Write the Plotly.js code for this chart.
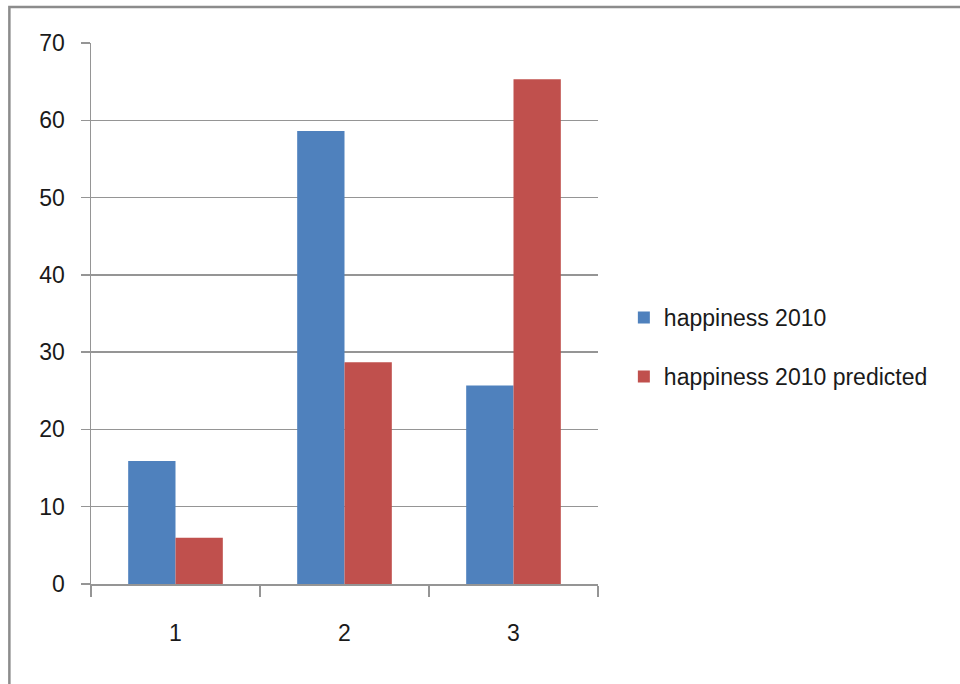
<!DOCTYPE html>
<html>
<head>
<meta charset="utf-8">
<script src="https://cdn.plot.ly/plotly-3.0.1.min.js"></script>
<style>
html,body{margin:0;padding:0;background:#fff;}
#chart{width:960px;height:684px;}
</style>
</head>
<body>
<div id="chart"></div>
<script>
var categories = ["1", "2", "3"];
var seriesNames = ["happiness 2010", "happiness 2010 predicted"];
var happiness2010 = [15.9, 58.6, 25.7];
var happiness2010Predicted = [6.0, 28.7, 65.3];
var yTickValues = [0, 10, 20, 30, 40, 50, 60, 70];

var FONT = "'Liberation Sans', Arial, sans-serif";
var GRID = "#959595";

var traces = [
  {
    type: "bar", name: seriesNames[0], x: categories, y: happiness2010,
    marker: {color: "#4F81BD", line: {width: 0}}, legendgroup: "a"
  },
  {
    type: "bar", name: seriesNames[1], x: categories, y: happiness2010Predicted,
    marker: {color: "#C0504D", line: {width: 0}}, legendgroup: "b"
  }
];

var layout = {
  width: 960, height: 684,
  paper_bgcolor: "#fff", plot_bgcolor: "#fff",
  margin: {l: 91, r: 362, t: 43, b: 100, autoexpand: false},
  barmode: "group", bargap: 0.44, bargroupgap: 0,
  font: {family: FONT, size: 23, color: "#1a1a1a"},
  showlegend: true,
  legend: {
    x: 1.051, xanchor: "left", y: 0.438, yanchor: "middle",
    font: {family: FONT, size: 23, color: "#1a1a1a"},
    tracegroupgap: 26, itemwidth: 30, bgcolor: "rgba(0,0,0,0)"
  },
  xaxis: {
    type: "category", showgrid: false, zeroline: false,
    showline: true, linecolor: GRID, linewidth: 1.5,
    ticks: "outside", tickson: "boundaries", ticklen: 11, tickcolor: GRID, tickwidth: 1.5,
    ticklabelstandoff: 28,
    tickfont: {family: FONT, size: 23, color: "#1a1a1a"}
  },
  yaxis: {
    range: [0, 70], tickvals: yTickValues, showgrid: true, gridcolor: GRID, gridwidth: 1.5,
    zeroline: false, showline: true, linecolor: GRID, linewidth: 1.5,
    ticks: "outside", ticklen: 9, tickcolor: GRID, tickwidth: 1.5,
    ticklabelstandoff: 11,
    tickfont: {family: FONT, size: 23, color: "#1a1a1a"}
  },
  shapes: [
    {type: "rect", xref: "paper", yref: "paper",
     x0: -0.161, x1: 1.75, y0: -0.2, y1: 1.0665,
     line: {color: "#8c8c8c", width: 2.5}, fillcolor: "rgba(0,0,0,0)", layer: "below"}
  ]
};

Plotly.newPlot("chart", traces, layout, {displayModeBar: false, staticPlot: true});
</script>
</body>
</html>
